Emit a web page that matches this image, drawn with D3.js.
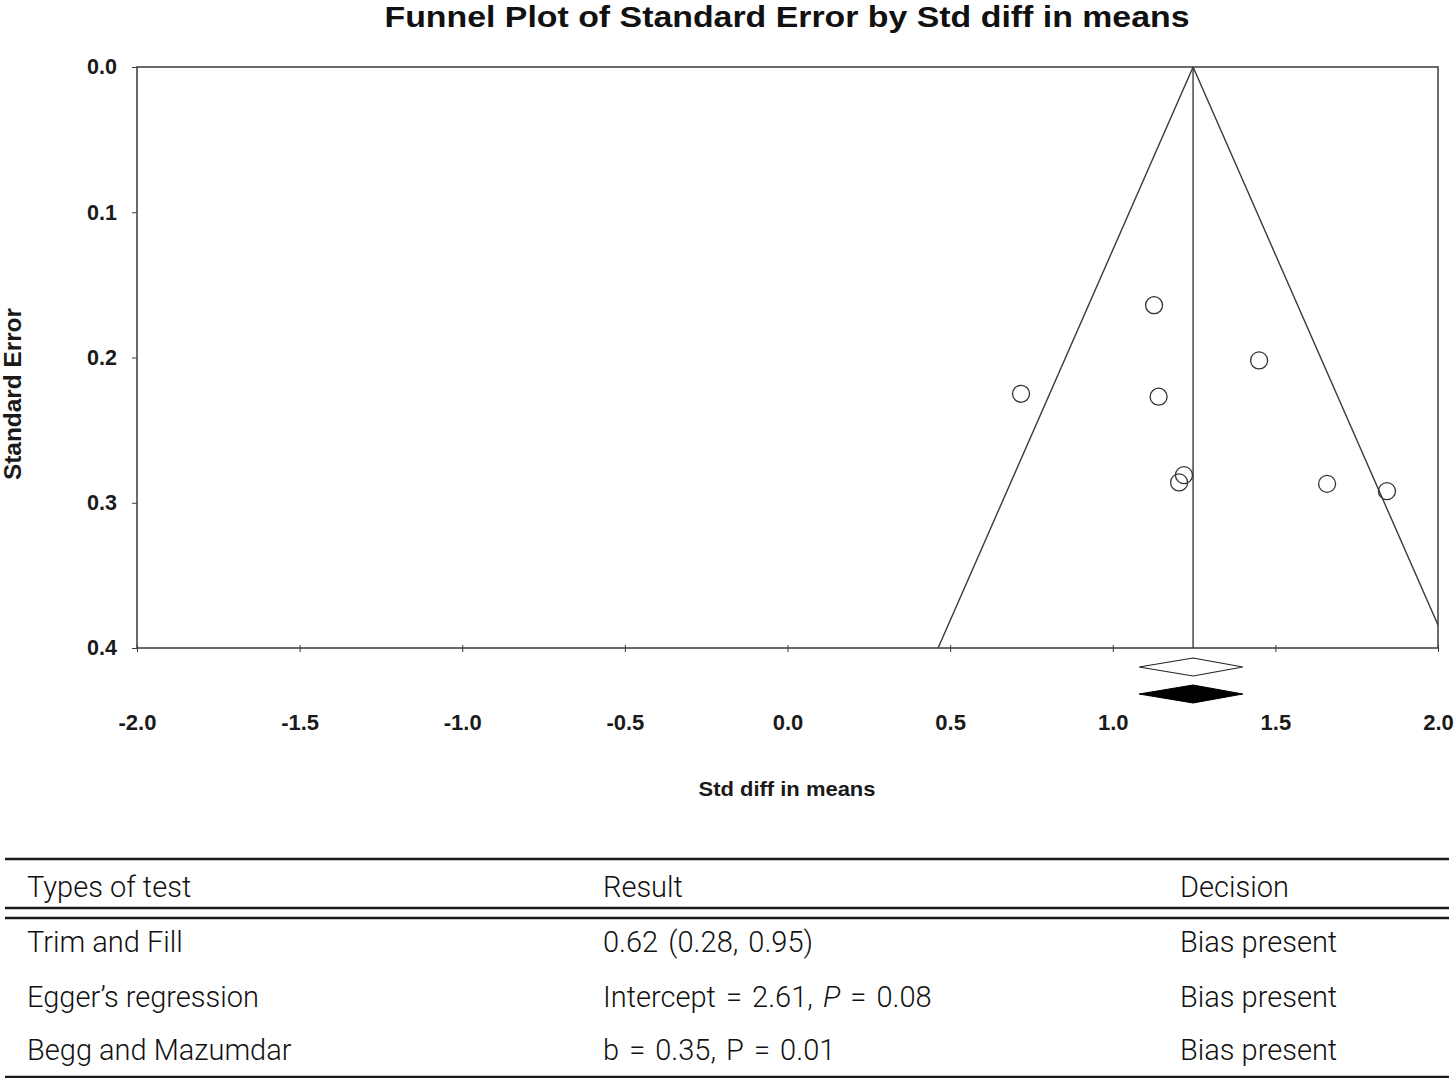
<!DOCTYPE html>
<html>
<head>
<meta charset="utf-8">
<script src="https://cdn.jsdelivr.net/npm/d3@7/dist/d3.min.js"></script>
<style>
  body { margin: 0; background: #fff; }
  svg { display: block; }
  .tick text { font-family: "Liberation Sans", Arial, sans-serif; font-weight: bold; fill: #1a1a1a; }
</style>
</head>
<body>
<div id="chart"></div>
<script>
// studies: effect size (std diff in means) and standard error
var effects    = [1.127, 1.450, 0.718, 1.141, 1.219, 1.204, 1.659, 1.843];
var stdErrors  = [0.164, 0.202, 0.225, 0.227, 0.281, 0.286, 0.287, 0.292];

// pooled estimate and its 95% CI (observed and imputed are the same here)
var pooledEffect = 1.247;
var pooledLow = 1.081;
var pooledHigh = 1.400;

var xTicks = [-2.0, -1.5, -1.0, -0.5, 0.0, 0.5, 1.0, 1.5, 2.0];
var yTicks = [0.0, 0.1, 0.2, 0.3, 0.4];

// table below the plot
var tableHeader = ["Types of test", "Result", "Decision"];
var testTypes = ["Trim and Fill", "Egger\u2019s regression", "Begg and Mazumdar"];
var testResults = ["0.62 (0.28, 0.95)", "Intercept = 2.61, P = 0.08", "b = 0.35, P = 0.01"];
var italicP = [false, true, false];
var testDecisions = ["Bias present", "Bias present", "Bias present"];

function init() {
  var width = 1454, height = 1078;
  var plot = {left: 137, right: 1438, top: 67, bottom: 648};
  var lineColor = "#3a3a3a";
  var fmt = d => d3.format(".1f")(d).replace("\u2212", "-");

  var svg = d3.select("#chart").append("svg")
    .attr("width", width)
    .attr("height", height);

  var x = d3.scaleLinear().domain([-2, 2]).range([plot.left, plot.right]);
  var y = d3.scaleLinear().domain([0, 0.4]).range([plot.top, plot.bottom]);

  // title
  svg.append("text")
    .attr("x", 787)
    .attr("y", 27)
    .attr("text-anchor", "middle")
    .attr("textLength", 805)
    .attr("lengthAdjust", "spacingAndGlyphs")
    .style("font-family", "'Liberation Sans', Arial, sans-serif")
    .style("font-weight", "bold")
    .style("font-size", "29px")
    .style("fill", "#111")
    .text("Funnel Plot of Standard Error by Std diff in means");

  svg.append("clipPath").attr("id", "plotclip")
    .append("rect")
    .attr("x", plot.left).attr("y", plot.top)
    .attr("width", plot.right - plot.left)
    .attr("height", plot.bottom - plot.top);

  // funnel (95% pseudo confidence limits)
  var seMax = 0.4;
  var funnel = [
    [pooledEffect - 1.96 * seMax, seMax],
    [pooledEffect, 0],
    [pooledEffect + 1.96 * seMax, seMax]
  ];
  var line = d3.line()
    .x(d => x(d[0]))
    .y(d => y(d[1]));

  var g = svg.append("g").attr("clip-path", "url(#plotclip)");
  g.append("path")
    .attr("d", line(funnel))
    .style("fill", "none")
    .style("stroke", lineColor)
    .style("stroke-width", 1.4);

  g.append("line")
    .attr("x1", x(pooledEffect)).attr("x2", x(pooledEffect))
    .attr("y1", y(0)).attr("y2", y(0.4))
    .style("stroke", lineColor)
    .style("stroke-width", 1.4);

  // study points
  var studies = effects.map((e, i) => ({effect: e, se: stdErrors[i]}));
  svg.append("g")
    .selectAll("circle")
    .data(studies)
    .enter()
    .append("circle")
    .attr("cx", d => x(d.effect))
    .attr("cy", d => y(d.se))
    .attr("r", 8.5)
    .style("fill", "none")
    .style("stroke", "#333")
    .style("stroke-width", 1.3);

  // axes
  var xAxis = d3.axisBottom(x)
    .tickValues(xTicks)
    .tickFormat(fmt)
    .tickSize(4)
    .tickPadding(62);
  var xg = svg.append("g")
    .attr("transform", `translate(0, ${plot.bottom})`)
    .call(xAxis);
  xg.select(".domain").remove();
  xg.selectAll(".tick line").attr("y1", -3).style("stroke", lineColor);
  xg.selectAll(".tick text").style("font-size", "22px");

  var yAxis = d3.axisLeft(y)
    .tickValues(yTicks)
    .tickFormat(fmt)
    .tickSize(5)
    .tickPadding(15);
  var yg = svg.append("g")
    .attr("transform", `translate(${plot.left}, 0)`)
    .call(yAxis);
  yg.select(".domain").remove();
  yg.selectAll(".tick line").style("stroke", lineColor);
  yg.selectAll(".tick text").style("font-size", "21.5px");

  // frame
  svg.append("rect")
    .attr("x", plot.left).attr("y", plot.top)
    .attr("width", plot.right - plot.left)
    .attr("height", plot.bottom - plot.top)
    .style("fill", "none")
    .style("stroke", lineColor)
    .style("stroke-width", 1.5);

  // summary diamonds: observed (open) and adjusted (filled)
  function diamond(cy) {
    return [[x(pooledLow), cy], [x(pooledEffect), cy - 9], [x(pooledHigh), cy], [x(pooledEffect), cy + 9]];
  }
  svg.append("polygon")
    .attr("points", diamond(667).join(" "))
    .style("fill", "#fff")
    .style("stroke", "#222")
    .style("stroke-width", 1.2);
  svg.append("polygon")
    .attr("points", diamond(694).join(" "))
    .style("fill", "#000")
    .style("stroke", "#000")
    .style("stroke-width", 1);

  // axis titles
  svg.append("text")
    .attr("x", 787)
    .attr("y", 796)
    .attr("text-anchor", "middle")
    .attr("textLength", 177)
    .attr("lengthAdjust", "spacingAndGlyphs")
    .style("font-family", "'Liberation Sans', Arial, sans-serif")
    .style("font-weight", "bold")
    .style("font-size", "21px")
    .style("fill", "#1a1a1a")
    .text("Std diff in means");

  svg.append("text")
    .attr("transform", "translate(21, 394) rotate(-90)")
    .attr("text-anchor", "middle")
    .attr("textLength", 172)
    .attr("lengthAdjust", "spacingAndGlyphs")
    .style("font-family", "'Liberation Sans', Arial, sans-serif")
    .style("font-weight", "bold")
    .style("font-size", "23px")
    .style("fill", "#1a1a1a")
    .text("Standard Error");

  // table
  var colX = [27, 603, 1180];
  var tableFont = "Roboto, 'Liberation Sans', sans-serif";
  var tbl = svg.append("g");

  function rule(yy) {
    tbl.append("line")
      .attr("x1", 5).attr("x2", 1449)
      .attr("y1", yy).attr("y2", yy)
      .style("stroke", "#1a1a1a")
      .style("stroke-width", 2.5);
  }
  rule(859);
  rule(908);
  rule(918);
  rule(1077);

  function cell(txt, cx, cy, italic, spacing) {
    var t = tbl.append("text")
      .attr("x", cx)
      .attr("y", cy)
      .style("font-family", tableFont)
      .style("font-weight", 300)
      .style("font-size", "29px")
      .style("word-spacing", spacing + "px")
      .style("fill", "#111");
    if (italic) {
      var parts = txt.split("P");
      t.append("tspan").text(parts[0]);
      t.append("tspan").style("font-style", "italic").text("P");
      t.append("tspan").text(parts[1]);
    } else {
      t.text(txt);
    }
  }

  tableHeader.forEach((h, i) => cell(h, colX[i], 897, false, 0));

  var rowY = [952, 1007, 1060];
  testTypes.forEach((tt, i) => {
    cell(tt, colX[0], rowY[i], false, 0);
    cell(testResults[i], colX[1], rowY[i], italicP[i], 3);
    cell(testDecisions[i], colX[2], rowY[i], false, 0);
  });
}

window.onload = init;
</script>
</body>
</html>
